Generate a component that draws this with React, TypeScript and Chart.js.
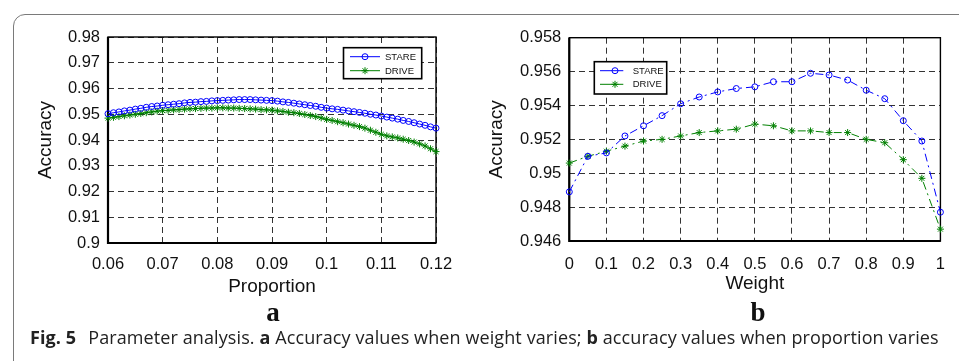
import React, { useEffect, useRef } from "react";
import { Chart, registerables } from "chart.js";

Chart.register(...registerables);

// ---------- Data: panel a (Proportion) ----------
const proportion = [
  0.060, 0.061, 0.062, 0.063, 0.064, 0.065, 0.066, 0.067, 0.068, 0.069,
  0.070, 0.071, 0.072, 0.073, 0.074, 0.075, 0.076, 0.077, 0.078, 0.079,
  0.080, 0.081, 0.082, 0.083, 0.084, 0.085, 0.086, 0.087, 0.088, 0.089,
  0.090, 0.091, 0.092, 0.093, 0.094, 0.095, 0.096, 0.097, 0.098, 0.099,
  0.100, 0.101, 0.102, 0.103, 0.104, 0.105, 0.106, 0.107, 0.108, 0.109,
  0.110, 0.111, 0.112, 0.113, 0.114, 0.115, 0.116, 0.117, 0.118, 0.119,
  0.120,
];
const stareA = [
  0.9502, 0.9506, 0.9509, 0.9513, 0.9516, 0.9520, 0.9523, 0.9527, 0.9530, 0.9532,
  0.9535, 0.9537, 0.9539, 0.9541, 0.9544, 0.9546, 0.9547, 0.9549, 0.9550, 0.9552,
  0.9553, 0.9554, 0.9555, 0.9556, 0.9557, 0.9557, 0.9557, 0.9556, 0.9555, 0.9554,
  0.9553, 0.9551, 0.9548, 0.9546, 0.9543, 0.9540, 0.9537, 0.9534, 0.9531, 0.9527,
  0.9524, 0.9521, 0.9519, 0.9516, 0.9513, 0.9510, 0.9507, 0.9504, 0.9500, 0.9497,
  0.9493, 0.9489, 0.9485, 0.9481, 0.9476, 0.9472, 0.9467, 0.9462, 0.9457, 0.9451,
  0.9446,
];
const driveA = [
  0.9485, 0.9488, 0.9491, 0.9494, 0.9497, 0.9500, 0.9503, 0.9506, 0.9509, 0.9512,
  0.9514, 0.9515, 0.9517, 0.9518, 0.9520, 0.9521, 0.9522, 0.9523, 0.9524, 0.9524,
  0.9525, 0.9525, 0.9524, 0.9524, 0.9523, 0.9522, 0.9521, 0.9520, 0.9518, 0.9517,
  0.9516, 0.9513, 0.9511, 0.9508, 0.9506, 0.9503, 0.9499, 0.9495, 0.9491, 0.9486,
  0.9480, 0.9476, 0.9471, 0.9467, 0.9462, 0.9457, 0.9452, 0.9446, 0.9438, 0.9430,
  0.9422, 0.9416, 0.9412, 0.9408, 0.9403, 0.9398, 0.9392, 0.9385, 0.9377, 0.9366,
  0.9355,
];
const xTicksA = [0.06, 0.07, 0.08, 0.09, 0.1, 0.11, 0.12];
const xTickLabelsA = ["0.06", "0.07", "0.08", "0.09", "0.1", "0.11", "0.12"];
const yTicksA = [0.9, 0.91, 0.92, 0.93, 0.94, 0.95, 0.96, 0.97, 0.98];
const yTickLabelsA = ["0.9", "0.91", "0.92", "0.93", "0.94", "0.95", "0.96", "0.97", "0.98"];

// ---------- Data: panel b (Weight) ----------
const weight = [0, 0.05, 0.1, 0.15, 0.2, 0.25, 0.3, 0.35, 0.4, 0.45, 0.5,
  0.55, 0.6, 0.65, 0.7, 0.75, 0.8, 0.85, 0.9, 0.95, 1];
const stareB = [0.9489, 0.9510, 0.9512, 0.9522, 0.9528, 0.9534, 0.9541, 0.9545, 0.9548, 0.9550, 0.9551,
  0.9554, 0.9554, 0.9559, 0.9558, 0.9555, 0.9549, 0.9544, 0.9531, 0.9519, 0.9477];
const driveB = [0.9506, 0.9510, 0.9513, 0.9516, 0.9519, 0.9520, 0.9522, 0.9524, 0.9525, 0.9526, 0.9529,
  0.9528, 0.9525, 0.9525, 0.9524, 0.9524, 0.9520, 0.9518, 0.9508, 0.9497, 0.9467];
const xTicksB = [0, 0.1, 0.2, 0.3, 0.4, 0.5, 0.6, 0.7, 0.8, 0.9, 1];
const xTickLabelsB = ["0", "0.1", "0.2", "0.3", "0.4", "0.5", "0.6", "0.7", "0.8", "0.9", "1"];
const yTicksB = [0.946, 0.948, 0.95, 0.952, 0.954, 0.956, 0.958];
const yTickLabelsB = ["0.946", "0.948", "0.95", "0.952", "0.954", "0.956", "0.958"];

const seriesNames = ["STARE", "DRIVE"];
const BLUE = "#0000ff";
const GREEN = "#008000";
const FONT = "'Liberation Sans', Arial, sans-serif";

// ---------- Plugins ----------
const boxPlugin = {
  id: "mbox",
  beforeDatasetsDraw(chart: any) {
    const { ctx, chartArea: a } = chart;
    ctx.save();
    ctx.strokeStyle = "#000";
    ctx.lineWidth = 1.4;
    ctx.strokeRect(a.left, a.top, a.right - a.left, a.bottom - a.top);
    ctx.lineWidth = 2.2;
    ctx.beginPath();
    ctx.moveTo(a.left, a.top);
    ctx.lineTo(a.left, a.bottom);
    ctx.lineTo(a.right, a.bottom);
    ctx.stroke();
    ctx.restore();
  },
};

function drawStar(ctx: CanvasRenderingContext2D, x: number, y: number, r: number) {
  ctx.beginPath();
  ctx.moveTo(x - r, y); ctx.lineTo(x + r, y);
  ctx.moveTo(x, y - r); ctx.lineTo(x, y + r);
  const d = r * Math.SQRT1_2;
  ctx.moveTo(x - d, y - d); ctx.lineTo(x + d, y + d);
  ctx.moveTo(x - d, y + d); ctx.lineTo(x + d, y - d);
  ctx.stroke();
}

const legendPlugin = {
  id: "mlegend",
  afterDatasetsDraw(chart: any, _args: any, o: any) {
    const { ctx } = chart;
    ctx.save();
    ctx.fillStyle = "#fff";
    ctx.fillRect(o.x, o.y, o.w, o.h);
    ctx.strokeStyle = "#000";
    ctx.lineWidth = 1.6;
    ctx.strokeRect(o.x, o.y, o.w, o.h);
    o.rows.forEach((row: any, i: number) => {
      const color = i === 0 ? BLUE : GREEN;
      ctx.strokeStyle = color;
      ctx.lineWidth = 1;
      ctx.setLineDash([]);
      ctx.beginPath();
      ctx.moveTo(o.lineX1, row);
      ctx.lineTo(o.lineX2, row);
      ctx.stroke();
      if (i === 0) {
        ctx.beginPath();
        ctx.arc(o.markerX, row, 3, 0, Math.PI * 2);
        ctx.stroke();
      } else {
        drawStar(ctx, o.markerX, row, 3.5);
      }
      ctx.fillStyle = "#111";
      ctx.font = `9.5px ${FONT}`;
      ctx.textBaseline = "middle";
      ctx.textAlign = "left";
      ctx.fillText(seriesNames[i], o.textX, row + 0.5);
    });
    ctx.restore();
  },
};

// ---------- Config builder ----------
function buildConfig(p: any) {
  const gridCommon = {
    color: "#333",
    lineWidth: 1,
    drawTicks: false,
  };
  return {
    type: "line",
    data: {
      datasets: [
        {
          label: seriesNames[0],
          data: p.xs.map((x: number, i: number) => ({ x, y: p.s1[i] })),
          borderColor: BLUE,
          borderWidth: 1,
          borderDash: p.dash,
          pointStyle: "circle",
          pointRadius: 3,
          pointBorderWidth: 1,
          pointBorderColor: BLUE,
          pointBackgroundColor: "rgba(0,0,0,0)",
          tension: 0,
          clip: false,
        },
        {
          label: seriesNames[1],
          data: p.xs.map((x: number, i: number) => ({ x, y: p.s2[i] })),
          borderColor: GREEN,
          borderWidth: 1,
          borderDash: p.dash,
          pointStyle: "star",
          pointRadius: 3.5,
          pointBorderWidth: 1,
          pointBorderColor: GREEN,
          pointBackgroundColor: GREEN,
          tension: 0,
          clip: false,
        },
      ],
    },
    options: {
      animation: false,
      responsive: false,
      devicePixelRatio: 1,
      events: [],
      layout: { padding: { left: 0, top: p.padTop, right: p.padRight, bottom: 0 } },
      plugins: {
        legend: { display: false },
        tooltip: { enabled: false },
        mlegend: p.legend,
      },
      scales: {
        x: {
          type: "linear",
          min: p.xTicks[0],
          max: p.xTicks[p.xTicks.length - 1],
          afterBuildTicks: (s: any) => { s.ticks = p.xTicks.map((v: number) => ({ value: v })); },
          afterFit: (s: any) => { s.height = p.xAxisH; },
          grid: gridCommon,
          border: { display: false, dash: [6, 4] },
          ticks: {
            autoSkip: false,
            maxRotation: 0,
            padding: p.xTickPad,
            color: "#111",
            font: { family: FONT, size: 16.5 },
            callback: (_v: any, i: number) => p.xLabels[i],
          },
          title: {
            display: true,
            text: p.xTitle,
            color: "#111",
            font: { family: FONT, size: 19, lineHeight: 1 },
            padding: { top: 0, bottom: p.xTitlePad },
          },
        },
        y: {
          type: "linear",
          min: p.yTicks[0],
          max: p.yTicks[p.yTicks.length - 1],
          afterBuildTicks: (s: any) => { s.ticks = p.yTicks.map((v: number) => ({ value: v })); },
          afterFit: (s: any) => { s.width = p.yAxisW; },
          grid: gridCommon,
          border: { display: false, dash: [6, 4] },
          ticks: {
            autoSkip: false,
            padding: p.yTickPad,
            color: "#111",
            font: { family: FONT, size: 16.5 },
            callback: (_v: any, i: number) => p.yLabels[i],
          },
          title: {
            display: true,
            text: "Accuracy",
            color: "#111",
            font: { family: FONT, size: 19, lineHeight: 1 },
            padding: { top: p.yTitlePad, bottom: 0 },
          },
        },
      },
    },
    plugins: [boxPlugin, legendPlugin],
  };
}

function ChartCanvas({ config, left, top, width, height }: any) {
  const ref = useRef<HTMLCanvasElement>(null);
  useEffect(() => {
    const chart = new Chart(ref.current as HTMLCanvasElement, config as any);
    return () => chart.destroy();
  }, []);
  return (
    <canvas
      ref={ref}
      width={width}
      height={height}
      style={{ position: "absolute", left, top, width, height }}
    />
  );
}

const configA = buildConfig({
  xs: proportion, s1: stareA, s2: driveA, dash: [],
  xTicks: xTicksA, xLabels: xTickLabelsA, yTicks: yTicksA, yLabels: yTickLabelsA,
  xTitle: "Proportion",
  padTop: 37, padRight: 44, yAxisW: 108, xAxisH: 57,
  xTickPad: 12, yTickPad: 8, xTitlePad: 4, yTitlePad: 36,
  legend: { x: 343.5, y: 47.7, w: 78.2, h: 31, rows: [56.7, 70.7], lineX1: 350, lineX2: 380, markerX: 365, textX: 385 },
});

const configB = buildConfig({
  xs: weight, s1: stareB, s2: driveB, dash: [8, 4, 2, 4],
  xTicks: xTicksB, xLabels: xTickLabelsB, yTicks: yTicksB, yLabels: yTickLabelsB,
  xTitle: "Weight",
  padTop: 37.7, padRight: 13, yAxisW: 89.3, xAxisH: 59,
  xTickPad: 14, yTickPad: 8, xTitlePad: 7, yTitlePad: 7.5,
  legend: { x: 114.3, y: 61.7, w: 72.4, h: 32.3, rows: [70.7, 84.3], lineX1: 120, lineX2: 143.3, markerX: 135, textX: 152.7 },
});

export default function App() {
  return (
    <div
      style={{
        position: "fixed", left: 0, top: 0, width: 959, height: 361,
        overflow: "hidden", background: "#fff",
      }}
    >
      <div
        style={{
          position: "absolute", left: 13, top: 14, width: 1100, height: 500,
          border: "1.5px solid #7a7a7a", borderRadius: 12, boxSizing: "border-box",
        }}
      />
      <ChartCanvas config={configA} left={0} top={0} width={480} height={300} />
      <ChartCanvas config={configB} left={480} top={0} width={479} height={300} />
      <div
        style={{
          position: "absolute", left: 273, top: 299, transform: "translateX(-50%)",
          font: "bold 27px 'Liberation Serif', serif", lineHeight: "27px", color: "#111",
        }}
      >
        a
      </div>
      <div
        style={{
          position: "absolute", left: 758, top: 299, transform: "translateX(-50%)",
          font: "bold 27px 'Liberation Serif', serif", lineHeight: "27px", color: "#111",
        }}
      >
        b
      </div>
      <div
        style={{
          position: "absolute", left: 30, top: 328, whiteSpace: "nowrap",
          font: "18px 'Open Sans', sans-serif", lineHeight: "18px", color: "#222",
          letterSpacing: "0.1px",
        }}
      >
        <b style={{ marginRight: 12 }}>Fig. 5</b>Parameter analysis. <b>a</b> Accuracy values when weight varies; <b>b</b> accuracy values when proportion varies
      </div>
    </div>
  );
}
